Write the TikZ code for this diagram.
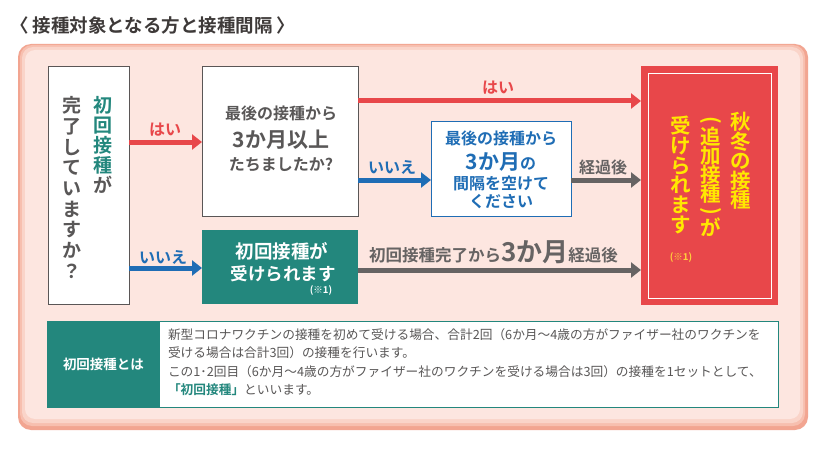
\documentclass[tikz,border=0pt]{standalone}
\usepackage{fontspec}
\setmainfont{Noto Sans CJK JP}[BoldFont={Noto Sans CJK JP Bold}]
\usetikzlibrary{arrows.meta,calc}
\definecolor{pinkbg}{HTML}{FDE6E0}
\definecolor{pinkA}{HTML}{F2A591}
\definecolor{pinkB}{HTML}{F7BFAF}
\definecolor{pinkC}{HTML}{FAD4C9}
\definecolor{txtgray}{HTML}{595757}
\definecolor{titlegray}{HTML}{3E3A39}
\definecolor{boxline}{HTML}{5A5656}
\definecolor{redc}{HTML}{E8474A}
\definecolor{bluec}{HTML}{1F6DB5}
\definecolor{tealc}{HTML}{23877D}
\definecolor{arrgray}{HTML}{666363}
\definecolor{yel}{HTML}{FFE800}
\definecolor{yelnote}{HTML}{FFD23C}
\begin{document}
\begin{tikzpicture}[x=1pt,y=-1pt,
  every node/.style={inner sep=0pt, outer sep=0pt},
  qbox/.style={draw=boxline, line width=0.9pt, fill=white},
  arr/.style={line width=5pt, -{Triangle[length=10pt,width=15pt]}},
  lbl/.style={font=\bfseries\fontsize{16}{18}\selectfont},
  vtxt/.style={anchor=north, align=center, font=\bfseries\fontsize{19}{20}\selectfont},
  rvtxt/.style={anchor=north, align=center, text=yel, font=\bfseries\fontsize{20.5}{19.5}\selectfont},
  rchar/.style={text=yel, font=\bfseries\fontsize{20.5}{22}\selectfont},
  mid/.style={align=center, font=\bfseries\fontsize{16}{18}\selectfont},
  big/.style={align=center, font=\bfseries\fontsize{21}{22}\selectfont}]
\useasboundingbox (0,0) rectangle (831,460);
\fill[white] (0,0) rectangle (831,460);
% title
\node[anchor=west, text=titlegray, font=\bfseries\fontsize{18.5}{20}\selectfont] (title) at (10,25) {〈 接種対象となる方と接種間隔 〉};
% panel
\fill[pinkA, rounded corners=13] (18,44) rectangle (808,430);
\fill[pinkB, rounded corners=12] (20,45) rectangle (805,426);
\fill[pinkC, rounded corners=11] (22,47) rectangle (803,423);
\fill[pinkbg, rounded corners=10] (25,50) rectangle (800,419);
% boxes
\node[qbox, minimum width=81, minimum height=238] (q1) at (88.5,185) {};
\node[vtxt, text=tealc] (q1a) at (103,96.5) {初\\回\\接\\種\\\textcolor{txtgray}{が}};
\node[vtxt, text=txtgray, font=\bfseries\fontsize{19}{20.7}\selectfont] (q1b) at (72,96.5) {完\\了\\し\\て\\い\\ま\\す\\か\\？};
\node[qbox, minimum width=156, minimum height=150] (q2) at (280,141) {};
\node[mid, text=txtgray] (q2a) at (281,113) {最後の接種から};
\node[big, text=txtgray] (q2b) at (281,140) {3か月以上};
\node[mid, text=txtgray] (q2c) at (281,165) {たちましたか?};
\node[fill=tealc, minimum width=156, minimum height=74] (t1) at (280,267) {};
\node[text=white, font=\bfseries\fontsize{18.5}{20}\selectfont] (t1a) at (282,251) {初回接種が};
\node[text=white, font=\bfseries\fontsize{17.5}{20}\selectfont] (t1b) at (283,274) {受けられます};
\node[text=white, font=\bfseries\fontsize{9.5}{10}\selectfont] (t1c) at (321,291) {(※1)};
\node[draw=bluec, line width=1pt, fill=white, minimum width=140, minimum height=94] (b1) at (501,169) {};
\node[mid, text=bluec] (b1a) at (501,138) {最後の接種から};
\node[text=bluec, font=\bfseries\fontsize{16}{18}\selectfont] (b1b) at (501,162) {{\fontsize{21}{22}\selectfont 3か月}の};
\node[mid, text=bluec] (b1c) at (501,183) {間隔を空けて};
\node[mid, text=bluec] (b1d) at (501,202) {ください};
\node[fill=redc, minimum width=137, minimum height=239] (r1) at (709.5,185.5) {};
\draw[white, line width=0.8pt] ($(r1.north west)+(7,7)$) rectangle ($(r1.south east)+(-7,-7)$);
\node[rvtxt] (r1a) at (741,112.5) {秋\\冬\\の\\接\\種};
\node[rchar, rotate=-90] (r1b1) at (711,120) {(};
\node[rchar] (r1b2) at (711,136.5) {追};
\node[rchar] (r1b3) at (711,155.5) {加};
\node[rchar] (r1b4) at (711,174.5) {接};
\node[rchar] (r1b5) at (711,194) {種};
\node[rchar, rotate=-90] (r1b6) at (711,211) {)};
\node[rchar] (r1b7) at (711,227.5) {が};
\node[rvtxt, font=\bfseries\fontsize{20.5}{19.8}\selectfont] (r1c) at (681,116) {受\\け\\ら\\れ\\ま\\す};
\node[text=yelnote, font=\bfseries\fontsize{9.5}{10}\selectfont] (r1d) at (681,257.5) {(※1)};
% bottom definition box
\node[draw=tealc, line width=1pt, fill=white, minimum width=731, minimum height=86, anchor=north west] (def) at (47,321) {};
\node[fill=tealc, minimum width=113, minimum height=86, anchor=north west] (deflbl) at (47,321) {};
\node[text=white, font=\bfseries\fontsize{13.5}{15}\selectfont] (deflbltxt) at (deflbl.center) {初回接種とは};
\draw[tealc, line width=1pt] (def.north west) rectangle (def.south east);
\node[anchor=north west, align=left, text=txtgray, font=\fontsize{12.7}{18.5}\selectfont] (deftxt) at (168,328.5) {新型コロナワクチンの接種を初めて受ける場合、合計2回（6か月～4歳の方がファイザー社のワクチンを\\受ける場合は合計3回）の接種を行います。\\この1･2回目（6か月～4歳の方がファイザー社のワクチンを受ける場合は3回）の接種を1セットとして、\\{\color{tealc}\bfseries「初回接種」}といいます。};
% arrows
\coordinate (yA) at (0,142);
\coordinate (yB) at (0,268);
\coordinate (yC) at (0,101);
\coordinate (yD) at (0,180);
\coordinate (yE) at (0,270);
\draw[arr, redc] (q1.east |- yA) -- (q2.west |- yA);
\node[lbl, text=redc] (l1) at (165,130) {はい};
\draw[arr, bluec] (q1.east |- yB) -- (t1.west |- yB);
\node[lbl, text=bluec] (l2) at (163,257) {いいえ};
\draw[arr, redc] (q2.east |- yC) -- (r1.west |- yC);
\node[lbl, text=redc] (l3) at (498,88) {はい};
\draw[arr, bluec] (q2.east |- yD) -- (b1.west |- yD);
\node[lbl, text=bluec] (l4) at (392,167) {いいえ};
\draw[arr, arrgray] (b1.east |- yD) -- (r1.west |- yD);
\node[lbl, text=arrgray] (l5) at (603,167) {経過後};
\draw[arr, arrgray] (t1.east |- yE) -- (r1.west |- yE);
\node[anchor=base west, text=arrgray, font=\bfseries\fontsize{16.5}{18}\selectfont] (l6) at (369,261) {初回接種完了から{\fontsize{26}{28}\selectfont 3か月}経過後};
\end{tikzpicture}
\end{document}
